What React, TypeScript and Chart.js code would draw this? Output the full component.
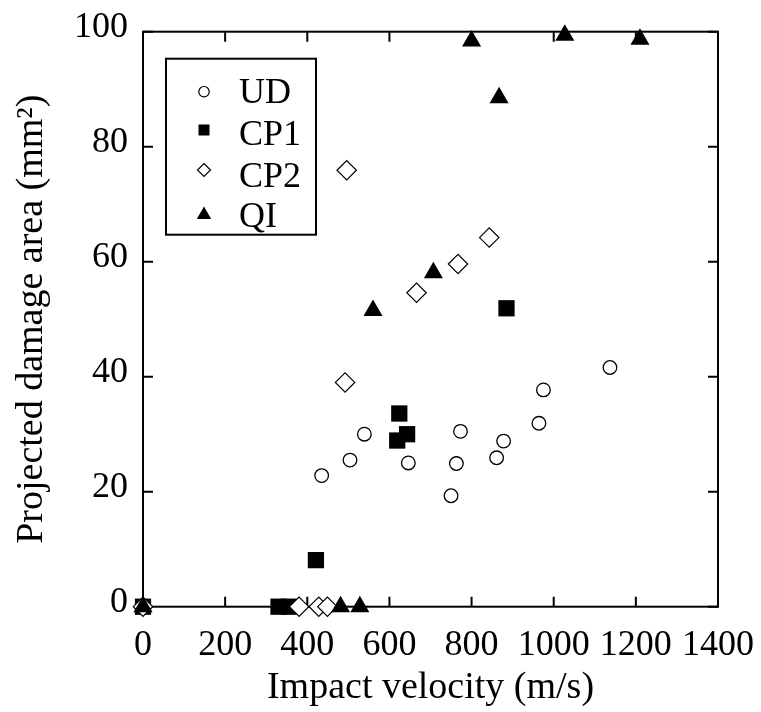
import React, { useEffect, useRef } from "react";
import { Chart, registerables } from "chart.js";

Chart.register(...registerables);

const seriesNames = ["UD", "CP1", "CP2", "QI"];

const udX = [0, 435, 504, 539, 646, 750, 763, 773, 861, 878, 964, 975, 1137];
const udY = [0, 22.8, 25.5, 30.0, 25.0, 19.3, 24.9, 30.5, 25.9, 28.8, 31.9, 37.7, 41.6];

const cp1X = [0, 330, 355, 421, 619, 624, 643, 885];
const cp1Y = [0, 0, 0, 8.1, 28.9, 33.6, 30.0, 51.9];

const cp2X = [0, 380, 428, 449, 492, 496, 666, 767, 843];
const cp2Y = [0, 0, 0, 0, 39.0, 75.9, 54.6, 59.6, 64.2];

const qiX = [0, 481, 528, 560, 707, 800, 867, 1027, 1210];
const qiY = [0, 0, 0, 51.5, 58.1, 98.4, 88.5, 99.4, 98.7];

const xTicks = [0, 200, 400, 600, 800, 1000, 1200, 1400];
const yTicks = [0, 20, 40, 60, 80, 100];

const xTitle = "Impact velocity (m/s)";
const yTitle = "Projected damage area (mm\u00B2)";

const FONT = "'Liberation Serif', 'Times New Roman', Times, serif";

const toPoints = (xs: number[], ys: number[]) => xs.map((x, i) => ({ x, y: ys[i] }));

function drawMarker(ctx: CanvasRenderingContext2D, style: string, x: number, y: number) {
  ctx.save();
  ctx.strokeStyle = "#000";
  ctx.lineWidth = 1.2;
  ctx.beginPath();
  if (style === "circle") {
    ctx.arc(x, y, 5.2, 0, Math.PI * 2);
    ctx.fillStyle = "#fff";
    ctx.fill();
    ctx.stroke();
  } else if (style === "rect") {
    ctx.fillStyle = "#000";
    ctx.fillRect(x - 5.5, y - 5.5, 11, 11);
  } else if (style === "rectRot") {
    const r = 6.5;
    ctx.moveTo(x, y - r);
    ctx.lineTo(x + r, y);
    ctx.lineTo(x, y + r);
    ctx.lineTo(x - r, y);
    ctx.closePath();
    ctx.fillStyle = "#fff";
    ctx.fill();
    ctx.stroke();
  } else if (style === "triangle") {
    ctx.moveTo(x, y - 6.5);
    ctx.lineTo(x + 7.2, y + 6);
    ctx.lineTo(x - 7.2, y + 6);
    ctx.closePath();
    ctx.fillStyle = "#000";
    ctx.fill();
  }
  ctx.restore();
}

const legendStyles = ["circle", "rect", "rectRot", "triangle"];

const framePlugin = {
  id: "frame",
  beforeDatasetsDraw(chart: any) {
    const { ctx, chartArea: a, scales } = chart;
    const x = scales.x;
    const y = scales.y;
    ctx.save();
    ctx.strokeStyle = "#000";
    ctx.lineWidth = 2;
    ctx.strokeRect(a.left, a.top, a.right - a.left, a.bottom - a.top);
    ctx.beginPath();
    const tl = 10;
    for (const v of xTicks) {
      const px = x.getPixelForValue(v);
      ctx.moveTo(px, a.bottom);
      ctx.lineTo(px, a.bottom - tl);
      ctx.moveTo(px, a.top);
      ctx.lineTo(px, a.top + tl);
    }
    for (const v of yTicks) {
      const py = y.getPixelForValue(v);
      ctx.moveTo(a.left, py);
      ctx.lineTo(a.left + tl, py);
      ctx.moveTo(a.right, py);
      ctx.lineTo(a.right - tl, py);
    }
    ctx.stroke();
    ctx.restore();
  },
  afterDraw(chart: any) {
    const { ctx, chartArea: a } = chart;
    const bx = a.left + 23;
    const by = a.top + 27;
    const bw = 150;
    const bh = 176;
    ctx.save();
    ctx.strokeStyle = "#000";
    ctx.lineWidth = 2;
    ctx.fillStyle = "#fff";
    ctx.fillRect(bx, by, bw, bh);
    ctx.strokeRect(bx, by, bw, bh);
    ctx.font = `36px ${FONT}`;
    ctx.fillStyle = "#000";
    ctx.textBaseline = "alphabetic";
    ctx.textAlign = "left";
    const baselines = [71.6, 113.3, 155, 195.3];
    const markerY = [60, 98.3, 138.3, 181.3];
    seriesNames.forEach((name, i) => {
      drawMarker(ctx, legendStyles[i], bx + 38, a.top + markerY[i]);
      ctx.fillText(name, bx + 73, a.top + baselines[i]);
    });
    ctx.restore();
  },
};

export default function App() {
  const ref = useRef<HTMLCanvasElement | null>(null);
  useEffect(() => {
    if (!ref.current) return;
    const tickFont = { family: FONT, size: 36 };
    const titleFont = { family: FONT, size: 38 };
    const hiddenGrid = (len: number) => ({
      display: true,
      drawOnChartArea: false,
      drawTicks: true,
      tickLength: len,
      color: "rgba(0,0,0,0)",
    });
    const chart = new Chart(ref.current, {
      type: "scatter",
      data: {
        datasets: [
          {
            label: seriesNames[0],
            data: toPoints(udX, udY),
            pointStyle: "circle",
            pointRadius: 6.8,
            pointBorderWidth: 1.3,
            pointBackgroundColor: "#fff",
            pointBorderColor: "#000",
            order: 3,
            clip: false,
          },
          {
            label: seriesNames[1],
            data: toPoints(cp1X, cp1Y),
            pointStyle: "rect",
            pointRadius: 11.5,
            pointBorderWidth: 0,
            pointBackgroundColor: "#000",
            pointBorderColor: "#000",
            order: 2,
            clip: false,
          },
          {
            label: seriesNames[2],
            data: toPoints(cp2X, cp2Y),
            pointStyle: "rectRot",
            pointRadius: 9.7,
            pointBorderWidth: 1.2,
            pointBackgroundColor: "#fff",
            pointBorderColor: "#000",
            order: 1,
            clip: false,
          },
          {
            label: seriesNames[3],
            data: toPoints(qiX, qiY),
            pointStyle: "triangle",
            pointRadius: 11,
            pointBorderWidth: 0,
            pointBackgroundColor: "#000",
            pointBorderColor: "#000",
            order: 0,
            clip: false,
          },
        ] as any,
      },
      options: {
        responsive: false,
        animation: false,
        events: [],
        layout: { padding: { top: 31.7, right: 43, left: 0, bottom: 0 } },
        plugins: {
          legend: { display: false },
          tooltip: { enabled: false },
        },
        scales: {
          x: {
            type: "linear",
            min: 0,
            max: 1400,
            afterFit: (s: any) => {
              s.height = 105.3;
            },
            afterBuildTicks: (s: any) => {
              s.ticks = xTicks.map((v) => ({ value: v }));
            },
            grid: hiddenGrid(17.5),
            border: { display: false },
            ticks: {
              font: tickFont,
              color: "#000",
              padding: 0,
              maxRotation: 0,
              autoSkip: false,
              callback: (v: any) => String(v),
            },
            title: {
              display: true,
              text: xTitle,
              font: titleFont,
              color: "#000",
              padding: { top: 0, bottom: 1 },
            },
          },
          y: {
            type: "linear",
            min: 0,
            max: 100,
            afterFit: (s: any) => {
              s.width = 143;
            },
            afterBuildTicks: (s: any) => {
              s.ticks = yTicks.map((v) => ({ value: v }));
            },
            grid: hiddenGrid(15),
            border: { display: false },
            ticks: {
              font: tickFont,
              color: "#000",
              padding: 0,
              labelOffset: -4.4,
              callback: (v: any) => String(v),
            },
            title: {
              display: true,
              text: yTitle,
              font: titleFont,
              color: "#000",
              padding: { top: 9, bottom: 0 },
            },
          },
        },
      } as any,
      plugins: [framePlugin],
    });
    return () => chart.destroy();
  }, []);
  return (
    <div style={{ position: "absolute", left: 0, top: 0, width: 761, height: 712, background: "#fff" }}>
      <canvas ref={ref} width={761} height={712} />
    </div>
  );
}
